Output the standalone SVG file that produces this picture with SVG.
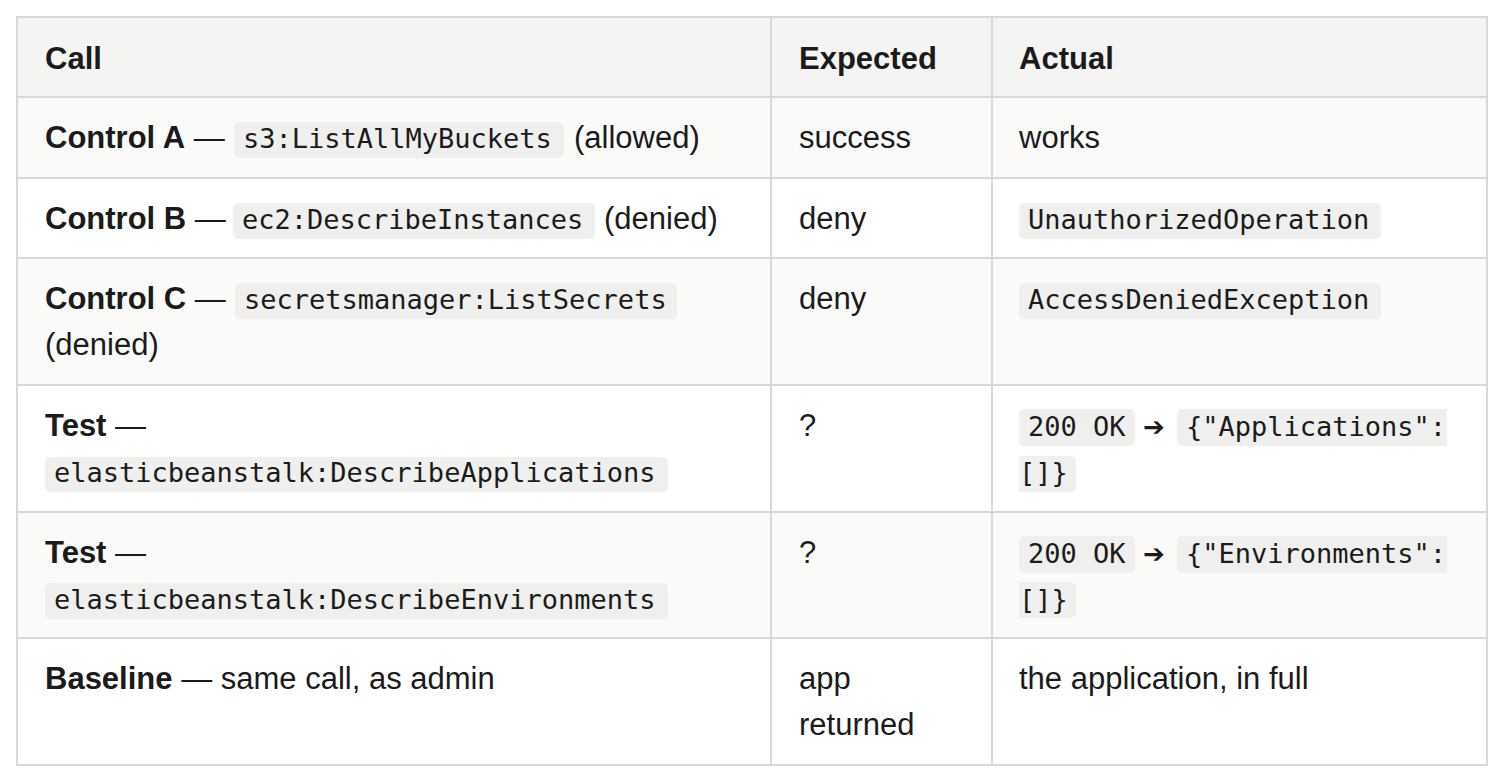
<svg xmlns="http://www.w3.org/2000/svg" width="1504" height="782" viewBox="0 0 1504 782">
<style>
  .t{font-family:"Liberation Sans",Arial,sans-serif;font-size:31px;fill:#1b1b1b}
  .b{font-weight:bold}
  .m{font-family:"DejaVu Sans Mono","Liberation Mono",monospace;font-size:27px;fill:#1b1b1b}
  .code{fill:#efefed}
  .arr{font-family:"DejaVu Sans",sans-serif;font-size:26px;fill:#1b1b1b}
  .grid{stroke:#d8d8d5;stroke-width:2;fill:none}
</style>
<rect width="1504" height="782" fill="#ffffff"/>
<g id="backgrounds">
  <rect x="17" y="17" width="1470" height="80" fill="#f4f4f2"/>
  <rect x="17" y="97" width="1470" height="81" fill="#fafaf9"/>
  <rect x="17" y="258" width="1470" height="127" fill="#fafaf9"/>
  <rect x="17" y="512" width="1470" height="126" fill="#fafaf9"/>
</g>
<g id="connectors" class="grid">
  <rect x="17" y="17" width="1470" height="748"/>
  <line x1="771" y1="17" x2="771" y2="765"/>
  <line x1="992" y1="17" x2="992" y2="765"/>
  <line x1="17" y1="97" x2="1487" y2="97"/>
  <line x1="17" y1="178" x2="1487" y2="178"/>
  <line x1="17" y1="258" x2="1487" y2="258"/>
  <line x1="17" y1="385" x2="1487" y2="385"/>
  <line x1="17" y1="512" x2="1487" y2="512"/>
  <line x1="17" y1="638" x2="1487" y2="638"/>
</g>
<g id="header">
  <text class="t b" x="45" y="69">Call</text>
  <text class="t b" x="799" y="69">Expected</text>
  <text class="t b" x="1019" y="69">Actual</text>
</g>
<g id="row-control-a">
  <text class="t" x="45" y="148"><tspan class="b">Control A</tspan> —</text>
  <rect class="code" x="234" y="122" width="330" height="36" rx="5"/>
  <text class="m" x="243" y="148">s3:ListAllMyBuckets</text>
  <text class="t" x="574" y="148">(allowed)</text>
  <text class="t" x="799" y="148">success</text>
  <text class="t" x="1019" y="148">works</text>
</g>
<g id="row-control-b">
  <text class="t" x="45" y="229"><tspan class="b">Control B</tspan> —</text>
  <rect class="code" x="233" y="203" width="362" height="36" rx="5"/>
  <text class="m" x="242" y="229">ec2:DescribeInstances</text>
  <text class="t" x="604" y="229">(denied)</text>
  <text class="t" x="799" y="229">deny</text>
  <rect class="code" x="1019" y="203" width="362" height="36" rx="5"/>
  <text class="m" x="1028" y="229">UnauthorizedOperation</text>
</g>
<g id="row-control-c">
  <text class="t" x="45" y="309"><tspan class="b">Control C</tspan> —</text>
  <rect class="code" x="235" y="283" width="442" height="36" rx="5"/>
  <text class="m" x="244" y="309">secretsmanager:ListSecrets</text>
  <text class="t" x="45" y="355">(denied)</text>
  <text class="t" x="799" y="309">deny</text>
  <rect class="code" x="1019" y="283" width="362" height="36" rx="5"/>
  <text class="m" x="1028" y="309">AccessDeniedException</text>
</g>
<g id="row-test-applications">
  <text class="t" x="45" y="436"><tspan class="b">Test</tspan> —</text>
  <rect class="code" x="45" y="457" width="623" height="35" rx="5"/>
  <text class="m" x="54" y="482">elasticbeanstalk:DescribeApplications</text>
  <text class="t" x="799" y="436">?</text>
  <rect class="code" x="1019" y="409" width="116" height="37" rx="5"/>
  <text class="m" x="1028" y="436">200 OK</text>
  <text class="arr" x="1143" y="436">➔</text>
  <path class="code" d="M1182,409 H1447 V446 H1182 A5,5 0 0 1 1177,441 V414 A5,5 0 0 1 1182,409 Z"/>
  <text class="m" x="1186" y="436">{"Applications":</text>
  <path class="code" d="M1019,456 H1071 A5,5 0 0 1 1076,461 V487 A5,5 0 0 1 1071,492 H1019 Z"/>
  <text class="m" x="1019" y="482">[]}</text>
</g>
<g id="row-test-environments">
  <text class="t" x="45" y="563"><tspan class="b">Test</tspan> —</text>
  <rect class="code" x="45" y="583" width="623" height="36" rx="5"/>
  <text class="m" x="54" y="609">elasticbeanstalk:DescribeEnvironments</text>
  <text class="t" x="799" y="563">?</text>
  <rect class="code" x="1019" y="536" width="116" height="37" rx="5"/>
  <text class="m" x="1028" y="563">200 OK</text>
  <text class="arr" x="1143" y="563">➔</text>
  <path class="code" d="M1182,536 H1447 V573 H1182 A5,5 0 0 1 1177,568 V541 A5,5 0 0 1 1182,536 Z"/>
  <text class="m" x="1186" y="563">{"Environments":</text>
  <path class="code" d="M1019,582 H1071 A5,5 0 0 1 1076,587 V613 A5,5 0 0 1 1071,618 H1019 Z"/>
  <text class="m" x="1019" y="609">[]}</text>
</g>
<g id="row-baseline">
  <text class="t" x="45" y="689"><tspan class="b">Baseline</tspan> — same call, as admin</text>
  <text class="t" x="799" y="689">app</text>
  <text class="t" x="799" y="735">returned</text>
  <text class="t" x="1019" y="689">the application, in full</text>
</g>
</svg>
